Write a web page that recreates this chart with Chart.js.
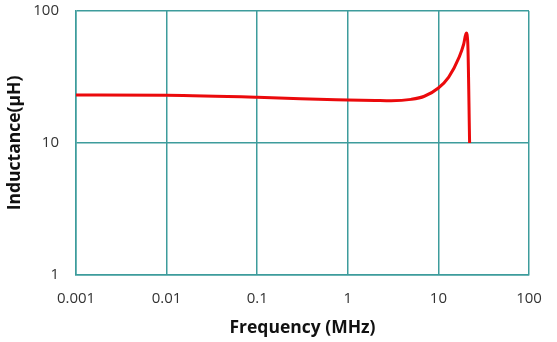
<!DOCTYPE html>
<html>
<head>
<meta charset="utf-8">
<script src="https://cdn.jsdelivr.net/npm/chart.js@4.4.1/dist/chart.umd.min.js"></script>
<style>
  html, body { margin: 0; padding: 0; background: #fff; }
  #wrap { width: 557px; height: 342px; }
</style>
</head>
<body>
<div id="wrap"><canvas id="lChart" width="557" height="342"></canvas></div>
<script>
// inductance vs frequency, log-log

// data
const freqMHz = [0.001, 0.01, 0.1, 0.3, 1, 2, 3, 5, 7, 10, 13, 17, 19, 20.3, 21.1, 22.1];
const inductance = [23.1, 23.0, 22.2, 21.6, 21.2, 21.0, 20.9, 21.4, 22.6, 26.1, 31.6, 44.9, 56, 68, 57, 10];
const xTicks = [0.001, 0.01, 0.1, 1, 10, 100];
const yTicks = [1, 10, 100];

const gridColor = '#3d9c9c';
const tickFont = { family: 'Open Sans', size: 15 };
const titleFont = { family: 'Open Sans', size: 17.5, weight: 'bold' };

const points = freqMHz.map((f, i) => ({ x: f, y: inductance[i] }));

const ctx = document.getElementById('lChart').getContext('2d');
const lChart = new Chart(ctx, {
    type: 'line',
    data: {
        datasets: [{
            label: 'Inductance',
            data: points,
            borderColor: 'rgb(235, 10, 12)',
            borderWidth: 3,
            pointRadius: 0,
            fill: false,
            cubicInterpolationMode: 'monotone'
        }]
    },
    options: {
        responsive: false,
        animation: false,
        layout: { padding: { top: 11, right: 28, left: 0, bottom: 0 } },
        plugins: {
            legend: { display: false },
            tooltip: { enabled: false }
        },
        scales: {
            x: {
                type: 'logarithmic',
                min: 0.001,
                max: 100,
                afterBuildTicks: function(scale) {
                    scale.ticks = xTicks.map(v => ({ value: v }));
                },
                afterFit: function(scale) {
                    scale.height = 67;
                    scale.paddingLeft = 0;
                    scale.paddingRight = 0;
                },
                ticks: {
                    color: '#333',
                    font: tickFont,
                    padding: 15,
                    maxRotation: 0,
                    callback: function(value) { return String(value); }
                },
                grid: { color: gridColor, lineWidth: 1.5, drawTicks: false },
                border: { color: gridColor, width: 1.5 },
                title: {
                    display: true,
                    text: 'Frequency (MHz)',
                    color: '#111',
                    font: titleFont,
                    padding: { top: 0, bottom: 3 }
                }
            },
            y: {
                type: 'logarithmic',
                min: 1,
                max: 100,
                afterBuildTicks: function(scale) {
                    scale.ticks = yTicks.map(v => ({ value: v }));
                },
                afterFit: function(scale) {
                    scale.width = 76;
                    scale.paddingTop = 0;
                    scale.paddingBottom = 0;
                },
                ticks: {
                    color: '#333',
                    font: tickFont,
                    padding: 17,
                    callback: function(value) { return String(value); }
                },
                grid: { color: gridColor, lineWidth: 1.5, drawTicks: false },
                border: { color: gridColor, width: 1.5 },
                title: {
                    display: true,
                    text: 'Inductance(μH)',
                    color: '#111',
                    font: titleFont,
                    padding: { top: 5, bottom: 0 }
                }
            }
        }
    }
});
</script>
</body>
</html>
